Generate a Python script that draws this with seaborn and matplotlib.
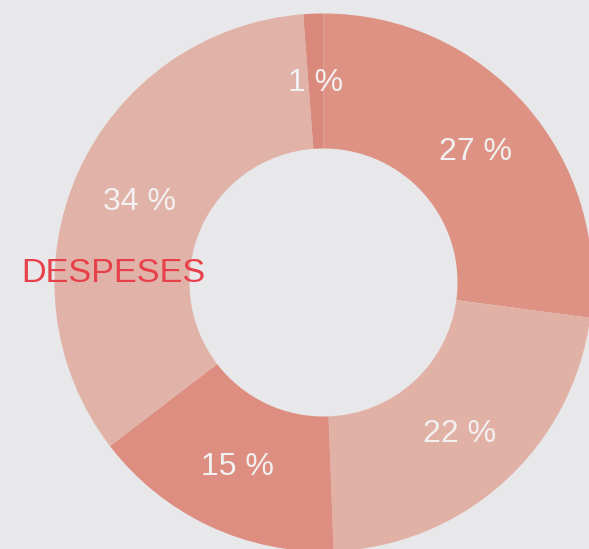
import matplotlib
matplotlib.use("Agg")
import matplotlib.pyplot as plt
import seaborn as sns

# Slice data, clockwise from 12 o'clock
categories = ["A", "B", "C", "D", "E"]
shares = [27.1, 22.3, 15.2, 34.2, 1.2]
slice_colors = ["#dd9284", "#e1b1a6", "#dd8e80", "#e1b3a8", "#da887c"]
title = "DESPESES"

sns.set_style("white")
plt.rcParams["font.family"] = ["Liberation Sans", "DejaVu Sans"]

W, H = 589, 549
fig = plt.figure(figsize=(W / 100, H / 100), dpi=100, facecolor="#e8e8ea")
ax = fig.add_axes([0, 0, 1, 1])
ax.set_facecolor("#e8e8ea")

cx, cy = 323.5, H - 282.5
r_out, r_in = 269, 134

wedges, texts, pcts = ax.pie(
    shares,
    colors=slice_colors,
    startangle=90,
    counterclock=False,
    center=(cx, cy),
    radius=r_out,
    wedgeprops=dict(width=r_out - r_in, linewidth=0),
    autopct=lambda p: f"{round(p)} %",
    pctdistance=(r_out + r_in) / 2 / r_out,
    textprops=dict(color="#f2f0f0", fontsize=23),
    frame=True,
)
# nudge percentage labels down slightly
for t in pcts:
    x, y = t.get_position()
    t.set_position((x, y - 2))

ax.set_xlim(0, W)
ax.set_ylim(0, H)
ax.set_aspect("equal")
ax.axis("off")

ax.text(21, H - 273.5, title, color="#e8404a", fontsize=24.7,
        ha="left", va="center")

fig.savefig("out.png", dpi=100, facecolor=fig.get_facecolor())
